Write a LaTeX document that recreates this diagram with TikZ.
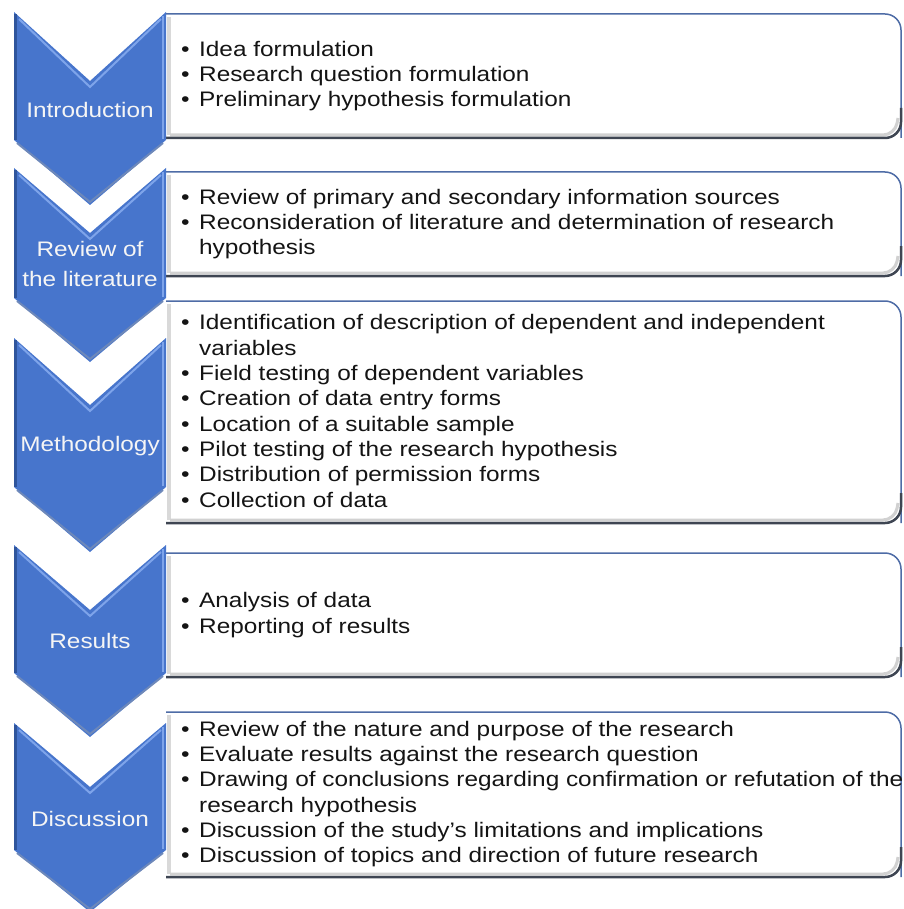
\documentclass[tikz,border=0pt]{standalone}
\usepackage{fontspec}
\setmainfont{Liberation Sans}[FakeStretch=1.16]

\definecolor{chevblue}{HTML}{4775CC}
\definecolor{chevlight}{HTML}{7EA4EA}
\definecolor{chevdark}{HTML}{2F559C}
\definecolor{boxtop}{HTML}{4E6CA6}
\definecolor{boxbottom}{HTML}{3E4552}
\definecolor{itemtext}{HTML}{141414}

% chevron: top, notch, shoulder, tip (y runs downwards)
\newcommand{\stagechevron}[4]{%
  \fill[chevblue] (14,#1) -- (90,#2) -- (166,#1) -- (166,#3) -- (90,#4) -- (14,#3) -- cycle;
  \draw[chevlight, line width=2pt] (19,#1+7) -- (90,#2+6) -- (161,#1+7);
  \draw[chevlight, line width=2pt] (163,#1+4) -- (163,#3-1);
  \draw[chevdark, line width=2.5pt] (15.5,#1+2) -- (15.5,#3);
  \draw[chevdark!70, line width=2pt] (17,#3+3) -- (90,#4-3) -- (163,#3+3);
}

% white box, square on the left, rounded on the right: top, bottom
\newcommand{\stagebox}[2]{%
  \fill[white, rounded corners=16] (166,#1) -- (901,#1) -- (901,#2) -- (166,#2);
  \draw[black!15, line width=4pt] (169,#1+3) -- (169,#2-3);
  \draw[black!18, line width=3pt, rounded corners=12] (170,#2-3) -- (895,#2-3) -- (898,#2-20);
  \draw[boxtop, line width=1.5pt, rounded corners=16] (166,#1) -- (901,#1) -- (901,#2);
  \draw[boxbottom, line width=2.5pt, rounded corners=16] (901,#2-30) -- (901,#2) -- (166,#2);
}

\newcommand{\itemdot}{\makebox[18pt][l]{•}}
\newcommand{\itemgap}{\hspace*{18pt}}

\begin{document}
\begin{tikzpicture}[
    x=1pt, y=-1pt,
    stage/.style={text=white!96!black, font=\fontsize{21}{30}\selectfont, align=center, inner sep=0pt},
    items/.style={text=itemtext, font=\fontsize{21}{25.3}\selectfont, align=left, anchor=west, inner sep=0pt}
]
\useasboundingbox (0,0) rectangle (903,909);

% boxes
\stagebox{14}{138}
\stagebox{172}{276}
\stagebox{301}{523}
\stagebox{553}{677}
\stagebox{712}{877}

% chevrons
\stagechevron{12}{81}{140}{205}
\stagechevron{168}{233}{298}{362}
\stagechevron{338}{405}{487}{552}
\stagechevron{545}{610}{673}{737}
\stagechevron{723}{787}{850}{912}

% stage names
\node[stage] (intro) at (90,110) {Introduction};
\node[stage] (review) at (90,264) {Review of\\the literature};
\node[stage] (method) at (90,446) {Methodology};
\node[stage] (results) at (90,641) {Results};
\node[stage] (discuss) at (90,819) {Discussion};

% what each stage involves
\node[items] (introItems) at (181,76) {%
  \itemdot Idea formulation\\
  \itemdot Research question formulation\\
  \itemdot Preliminary hypothesis formulation};
\node[items] (reviewItems) at (181,224) {%
  \itemdot Review of primary and secondary information sources\\
  \itemdot Reconsideration of literature and determination of research\\
  \itemgap hypothesis};
\node[items] (methodItems) at (181,411) {%
  \itemdot Identification of description of dependent and independent\\
  \itemgap variables\\
  \itemdot Field testing of dependent variables\\
  \itemdot Creation of data entry forms\\
  \itemdot Location of a suitable sample\\
  \itemdot Pilot testing of the research hypothesis\\
  \itemdot Distribution of permission forms\\
  \itemdot Collection of data};
\node[items] (resultsItems) at (181,615) {%
  \itemdot Analysis of data\\
  \itemdot Reporting of results};
\node[items] (discussItems) at (181,794) {%
  \itemdot Review of the nature and purpose of the research\\
  \itemdot Evaluate results against the research question\\
  \itemdot Drawing of conclusions regarding confirmation or refutation of the\\
  \itemgap research hypothesis\\
  \itemdot Discussion of the study’s limitations and implications\\
  \itemdot Discussion of topics and direction of future research};

\end{tikzpicture}
\end{document}
